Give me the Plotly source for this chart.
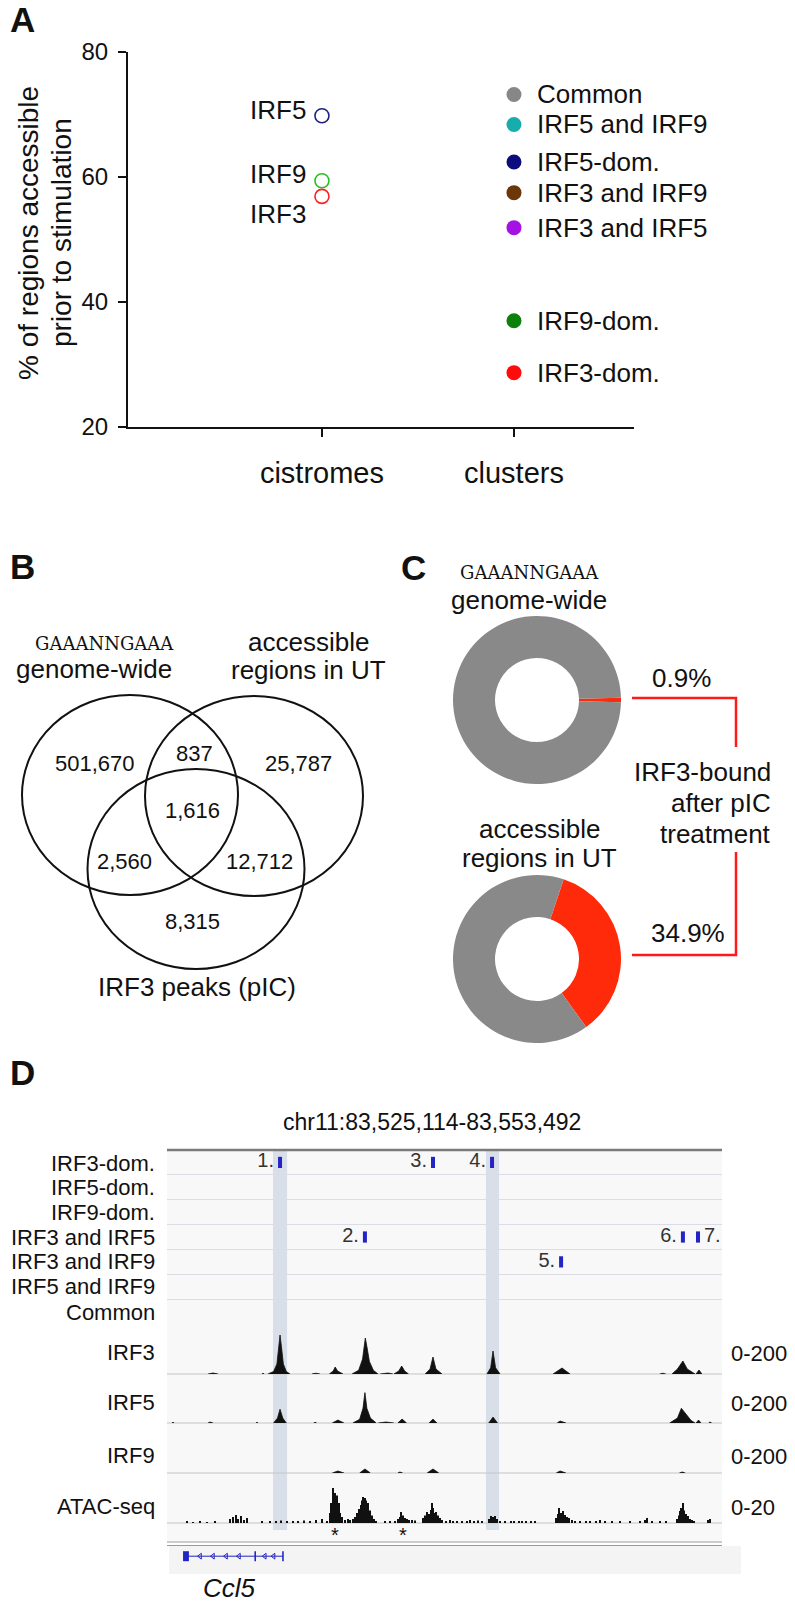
import plotly.graph_objects as go

W, H = 795, 1603
FONT = "Liberation Sans, Arial, Helvetica, sans-serif"
SERIF = "DejaVu Serif, Liberation Serif, serif"
INK = "#111111"
RED = "#ff2a0a"
LINE_RED = "#ff1a1a"
GRAY = "#898989"
BLUE = "#2424c4"


def px(x):
    return x / W


def py(y):
    return 1 - y / H


# ---------------- A: accessibility prior to stimulation
X_CATS = ["cistromes", "clusters"]
Y_TICKS = [20, 40, 60, 80]
CISTROME_NAMES = ["IRF5", "IRF9", "IRF3"]
CISTROME_PCT = [69.8, 59.4, 56.9]
CISTROME_COLORS = ["#1f1f85", "#25c025", "#ff2020"]
CLUSTER_NAMES = ["Common", "IRF5 and IRF9", "IRF5-dom.", "IRF3 and IRF9",
                 "IRF3 and IRF5", "IRF9-dom.", "IRF3-dom."]
CLUSTER_PCT = [73.2, 68.4, 62.4, 57.5, 51.9, 37.0, 28.7]
CLUSTER_COLORS = ["#878787", "#17adad", "#0c0c7c", "#6b3608",
                  "#a312e3", "#0b800b", "#ff0b0b"]

# ---------------- B: venn counts
VENN_REGIONS = ["motif only", "motif+accessible", "accessible only", "all three",
                "motif+IRF3", "accessible+IRF3", "IRF3 only"]
VENN_COUNTS = [501670, 837, 25787, 1616, 2560, 12712, 8315]

# ---------------- C: fraction IRF3-bound
DONUT_GROUPS = ["genome-wide", "accessible regions in UT"]
BOUND_PCT = [0.9, 34.9]

# ---------------- D: genome browser (positions in kb from chr11:83,525,114)
WINDOW = "chr11:83,525,114-83,553,492"
SPAN_KB = 28.378
ROW_TRACKS = ["IRF3-dom.", "IRF5-dom.", "IRF9-dom.", "IRF3 and IRF5",
              "IRF3 and IRF9", "IRF5 and IRF9", "Common"]
FEATURE_IDS = ["1.", "2.", "3.", "4.", "5.", "6.", "7."]
FEATURE_ROW = ["IRF3-dom.", "IRF3 and IRF5", "IRF3-dom.", "IRF3-dom.",
               "IRF3 and IRF9", "IRF3 and IRF5", "IRF3 and IRF5"]
FEATURE_KB = [5.78, 10.12, 13.60, 16.62, 20.15, 26.38, 27.15]
HIGHLIGHT_KB = [(5.42, 6.14), (16.31, 16.98)]

IRF3_X = [2.10, 2.35, 2.61, None, 4.85, 4.91, 4.97, None,
          5.16, 5.45, 5.62, 5.72, 5.78, 5.85, 5.95, 6.10, 6.29, None,
          7.41, 7.60, 7.82, None, 8.30, 8.50, 8.60, 8.72, 9.00, None,
          9.46, 9.80, 10.00, 10.08, 10.14, 10.22, 10.35, 10.55, 10.79, None,
          10.90, 11.30, 11.55, None, 11.60, 11.85, 12.00, 12.15, 12.35, None,
          13.20, 13.45, 13.60, 13.75, 14.06, None, 16.36, 16.55, 16.67, 16.80, 17.03, None,
          19.74, 20.00, 20.20, 20.40, 20.61, None, 25.20, 25.36, 25.50, None,
          25.82, 26.10, 26.38, 26.60, 27.00, None, 27.05, 27.20, 27.35]
IRF3_Y = [0, 4, 0, None, 0, 3, 0, None,
          0, 10, 40, 110, 156, 110, 40, 10, 0, None,
          0, 3, 0, None, 0, 12, 28, 12, 0, None,
          0, 15, 60, 120, 144, 110, 50, 15, 0, None,
          0, 4, 0, None, 0, 12, 32, 12, 0, None,
          0, 20, 68, 20, 0, None, 0, 25, 92, 25, 0, None,
          0, 12, 24, 12, 0, None, 0, 3, 0, None,
          0, 20, 52, 20, 0, None, 0, 16, 0]
IRF5_X = [0.25, 0.31, 0.37, None, 2.10, 2.20, 2.35, None, 4.55, 4.60, 4.66, None,
          5.45, 5.65, 5.78, 5.92, 6.10, None, 7.50, 7.57, 7.65, None,
          8.45, 8.74, 9.05, None, 9.50, 9.85, 10.02, 10.12, 10.22, 10.40, 10.70, None,
          10.80, 11.20, 11.60, None, 11.80, 12.02, 12.25, None, 13.40, 13.60, 13.80, None,
          16.45, 16.67, 16.90, None, 19.95, 20.10, 20.40, None,
          25.70, 26.10, 26.30, 26.50, 26.80, 27.00, None, 27.05, 27.18, 27.30, None,
          27.70, 27.76, 27.85]
IRF5_Y = [0, 3, 0, None, 0, 4, 0, None, 0, 3, 0, None,
          0, 20, 56, 20, 0, None, 0, 3, 0, None,
          0, 12, 0, None, 0, 15, 60, 124, 60, 20, 0, None,
          0, 4, 0, None, 0, 16, 0, None, 0, 16, 0, None,
          0, 24, 0, None, 0, 8, 0, None,
          0, 20, 60, 40, 10, 0, None, 0, 12, 0, None,
          0, 4, 0]
IRF9_X = [8.45, 8.74, 9.05, None, 9.85, 10.12, 10.40, None, 11.80, 11.91, 12.05, None,
          13.30, 13.60, 13.90, None, 19.90, 20.10, 20.40, None, 26.20, 26.34, 26.50]
IRF9_Y = [0, 8, 0, None, 0, 16, 0, None, 0, 4, 0, None,
          0, 16, 0, None, 0, 8, 0, None, 0, 4, 0]
ATAC_KB = [1.02, 1.33, 1.69, 2.05, 2.45, 3.22, 3.37, 3.53, 3.63, 3.78, 3.94, 4.09,
           4.86, 5.27, 5.57, 5.83, 6.14, 6.44, 6.70, 7.00, 7.31, 7.62, 7.93, 8.18,
           8.33, 8.39, 8.44, 8.49, 8.54, 8.59, 8.64, 8.69, 8.74, 8.79, 8.85, 8.95,
           9.10, 9.25, 9.36, 9.51, 9.61, 9.72, 9.82, 9.92, 9.97, 10.02, 10.07, 10.12,
           10.17, 10.23, 10.28, 10.38, 10.48, 10.58, 10.69, 11.15, 11.40, 11.66, 11.81,
           11.91, 11.96, 12.07, 12.17, 12.27, 12.37, 12.53, 12.68, 13.09, 13.19, 13.29,
           13.40, 13.50, 13.55, 13.60, 13.65, 13.75, 13.86, 13.96, 14.06, 14.27, 14.47,
           14.62, 14.83, 15.08, 15.34, 15.49, 15.70, 15.90, 16.11, 16.46, 16.57, 16.67,
           16.77, 16.87, 17.03, 17.28, 17.59, 17.74, 18.00, 18.15, 18.36, 18.61, 18.82,
           19.89, 19.99, 20.04, 20.15, 20.25, 20.35, 20.45, 20.55, 20.71, 20.86, 21.12,
           21.42, 21.63, 21.94, 22.14, 22.40, 22.75, 23.16, 23.67, 24.19, 24.44, 24.54,
           24.80, 25.21, 25.52, 26.08, 26.18, 26.24, 26.29, 26.34, 26.39, 26.44, 26.54,
           26.64, 26.74, 26.84, 26.95, 27.66, 27.76]
ATAC_VAL = [0.6, 0.4, 0.6, 0.4, 0.8, 1.6, 2.4, 3.2, 1.6, 2.8, 1.2, 2.0,
            0.8, 0.6, 0.8, 1.0, 0.6, 0.8, 0.6, 1.0, 0.8, 1.2, 1.6, 0.8,
            4, 8, 6, 14, 9, 12, 7, 11, 5, 8, 4, 2.4,
            1.2, 1.6, 1.2, 1.6, 2.4, 4, 5.6, 7.2, 9, 10.4, 8.4, 10,
            9, 7, 8, 5, 3, 1.6, 0.8, 0.8, 0.6, 0.8, 1.6,
            2.4, 4.4, 3, 2, 1.6, 1.2, 1.2, 1.0, 2, 3, 4.4,
            3.6, 5.2, 8, 6, 4, 4.4, 3, 2, 1.2, 0.8, 1.2,
            0.6, 0.8, 0.6, 0.8, 1.2, 0.8, 1.0, 0.8, 1.6, 2.8, 2.4,
            2.8, 1.6, 0.8, 0.8, 0.8, 0.6, 0.8, 0.6, 0.6, 0.8, 0.6,
            2, 3.6, 6, 4, 4.8, 3.2, 2.4, 2, 1.2, 0.8, 0.8,
            0.6, 0.8, 0.6, 1.2, 0.6, 0.8, 0.6, 0.6, 0.8, 1.2, 2,
            0.8, 0.8, 0.6, 1.6, 3, 4.8, 6, 4, 8, 5, 3.6,
            2.8, 1.6, 1.2, 0.8, 1.2, 1.6]
ATAC_STARS_KB = [8.59, 12.07]
GENE_NAME = "Ccl5"
GENE_SPAN = [0.92, 5.93]
EXON_START = [0.82, 4.47, 5.89]
EXON_END = [1.12, 4.55, 5.97]
INTRON_ARROWS = [1.69, 2.35, 3.02, 3.68, 5.00, 5.45]

fig = go.Figure()

# ---------- panel A
fig.add_trace(go.Scatter(
    x=[X_CATS[0]] * len(CISTROME_PCT), y=CISTROME_PCT, mode="markers",
    marker=dict(symbol="circle-open", size=14, color=CISTROME_COLORS, line=dict(width=1.6)),
    xaxis="x", yaxis="y", cliponaxis=False,
))
fig.add_trace(go.Scatter(
    x=[X_CATS[1]] * len(CLUSTER_PCT), y=CLUSTER_PCT, mode="markers",
    marker=dict(symbol="circle", size=15, color=CLUSTER_COLORS),
    xaxis="x", yaxis="y", cliponaxis=False,
))

# ---------- panel C donuts
DONUT_CENTER = [(537, 700), (537, 959)]
DONUT_R = 84
DONUT_ROT = [90 - BOUND_PCT[0] * 1.8, 18.5]
for pct, (cx, cy), rot in zip(BOUND_PCT, DONUT_CENTER, DONUT_ROT):
    fig.add_trace(go.Pie(
        values=[pct, 100 - pct], labels=["IRF3-bound", "not bound"],
        marker=dict(colors=[RED, GRAY], line=dict(width=0)),
        hole=0.5, sort=False, direction="clockwise", rotation=rot,
        textinfo="none", showlegend=False,
        domain=dict(x=[px(cx - DONUT_R), px(cx + DONUT_R)],
                    y=[py(cy + DONUT_R), py(cy - DONUT_R)]),
    ))

# ---------- panel D tracks
fig.add_trace(go.Scatter(
    x=FEATURE_KB, y=[ROW_TRACKS.index(r) + 0.5 for r in FEATURE_ROW],
    mode="markers+text", text=FEATURE_IDS,
    textposition=["middle left"] * 6 + ["middle right"],
    textfont=dict(size=20, color="#333"),
    marker=dict(symbol="line-ns", size=8, line=dict(width=4, color=BLUE)),
    xaxis="x2", yaxis="y2", cliponaxis=False,
))
for xs, ys, ax in [(IRF3_X, IRF3_Y, "y3"), (IRF5_X, IRF5_Y, "y4"), (IRF9_X, IRF9_Y, "y5")]:
    fig.add_trace(go.Scatter(
        x=xs, y=ys, mode="lines", fill="tozeroy", fillcolor="#111",
        line=dict(color="#111", width=0.8), xaxis="x2", yaxis=ax, connectgaps=False,
    ))
fig.add_trace(go.Bar(x=ATAC_KB, y=ATAC_VAL, width=0.055, marker=dict(color="#111", line=dict(width=0)),
                     xaxis="x2", yaxis="y6"))
fig.add_trace(go.Scatter(x=GENE_SPAN, y=[0, 0], mode="lines", line=dict(color=BLUE, width=1),
                         xaxis="x2", yaxis="y7"))
for s, e in zip(EXON_START, EXON_END):
    fig.add_trace(go.Scatter(x=[s, e], y=[0, 0], mode="lines", line=dict(color=BLUE, width=10),
                             xaxis="x2", yaxis="y7"))
fig.add_trace(go.Scatter(x=INTRON_ARROWS, y=[0] * len(INTRON_ARROWS), mode="markers",
                         marker=dict(symbol="triangle-left-open", size=5, color=BLUE, line=dict(width=1)),
                         xaxis="x2", yaxis="y7"))

hidden = dict(visible=False, fixedrange=True, automargin=False)
fig.update_layout(
    width=W, height=H, autosize=False, showlegend=False,
    margin=dict(l=0, r=0, t=0, b=0, pad=0, autoexpand=False),
    paper_bgcolor="white", plot_bgcolor="rgba(0,0,0,0)",
    font=dict(family=FONT, color=INK, size=22),
    xaxis=dict(domain=[px(128), px(634)], type="category", categoryarray=X_CATS,
               range=[-1.01, 1.625], showline=True, linecolor=INK, linewidth=2,
               ticks="outside", ticklen=8, tickwidth=2, tickcolor=INK, automargin=False,
               tickfont=dict(size=29), ticklabelstandoff=11, showgrid=False, zeroline=False),
    yaxis=dict(domain=[py(427), py(52)], range=[20, 80], tickvals=Y_TICKS,
               showline=True, linecolor=INK, linewidth=2, ticks="outside", ticklen=8,
               tickwidth=2, tickcolor=INK, tickfont=dict(size=24), ticklabelstandoff=5,
               showgrid=False, zeroline=False, automargin=False),
    xaxis2=dict(domain=[px(167), px(722)], range=[0, SPAN_KB], anchor="y2", **hidden),
    yaxis2=dict(domain=[py(1324), py(1150)], range=[7, 0], anchor="x2", tickvals=[1, 2, 3, 4, 5, 6, 7],
                showgrid=True, gridcolor="#dcdce6", gridwidth=1, showticklabels=False, ticks="",
                showline=False, zeroline=False, fixedrange=True, automargin=False),
    yaxis3=dict(domain=[py(1374), py(1324)], range=[0, 200], anchor="x2", **hidden),
    yaxis4=dict(domain=[py(1423), py(1374)], range=[0, 200], anchor="x2", **hidden),
    yaxis5=dict(domain=[py(1473), py(1423)], range=[0, 200], anchor="x2", **hidden),
    yaxis6=dict(domain=[py(1523), py(1473)], range=[0, 20], anchor="x2", **hidden),
    yaxis7=dict(domain=[py(1573), py(1545)], range=[-1.2, 0.8], anchor="x2", **hidden),
)

shapes = []
# D backgrounds and rules
shapes.append(dict(type="rect", xref="paper", yref="paper", x0=px(167), x1=px(722), y0=py(1541),
                   y1=py(1150), fillcolor="#f8f8f8", line=dict(width=0), layer="below"))
shapes.append(dict(type="rect", xref="paper", yref="paper", x0=px(169), x1=px(741), y0=py(1574),
                   y1=py(1546), fillcolor="#f4f4f4", line=dict(width=0), layer="below"))
for a, b in HIGHLIGHT_KB:
    shapes.append(dict(type="rect", xref="x2", yref="paper", x0=a, x1=b, y0=py(1530), y1=py(1151),
                       fillcolor="rgba(180,192,214,0.45)", line=dict(width=0), layer="below"))
shapes.append(dict(type="line", xref="paper", yref="paper", x0=px(167), x1=px(722), y0=py(1150),
                   y1=py(1150), line=dict(color="#7a7a7a", width=2.5)))
for yb in [1374, 1423, 1473, 1523]:
    shapes.append(dict(type="line", xref="paper", yref="paper", x0=px(167), x1=px(722), y0=py(yb),
                       y1=py(yb), line=dict(color="#c4c4c4", width=1), layer="below"))
for yb in [1542, 1545.5]:
    shapes.append(dict(type="line", xref="paper", yref="paper", x0=px(167), x1=px(722), y0=py(yb),
                       y1=py(yb), line=dict(color="#9a9a9a", width=1.2)))

# B venn sets (ellipses)
VENN_ELLIPSES = [(130, 795, 108, 100), (254, 796, 109, 100), (196, 869, 108.5, 100)]
for cx, cy, rx, ry in VENN_ELLIPSES:
    shapes.append(dict(type="circle", xref="paper", yref="paper", x0=px(cx - rx), x1=px(cx + rx),
                       y0=py(cy + ry), y1=py(cy - ry), line=dict(color=INK, width=2)))

# C connectors
shapes.append(dict(type="path", xref="paper", yref="paper",
                   path=f"M {px(632)} {py(698)} L {px(736)} {py(698)} L {px(736)} {py(747)}",
                   line=dict(color=LINE_RED, width=2.5)))
shapes.append(dict(type="path", xref="paper", yref="paper",
                   path=f"M {px(736)} {py(852)} L {px(736)} {py(955)} L {px(632)} {py(955)}",
                   line=dict(color=LINE_RED, width=2.5)))
fig.update_layout(shapes=shapes)

ann = []


def text(x, y, s, size=26, anchor="center", family=FONT, **kw):
    ann.append(dict(xref="paper", yref="paper", x=px(x), y=py(y), text=s, showarrow=False,
                    xanchor=anchor, yanchor="middle", font=dict(size=size, family=family, color=INK), **kw))


# panel letters
for letter, x, y in [("A", 22, 20), ("B", 22, 566), ("C", 413, 567), ("D", 22, 1072)]:
    text(x, y, f"<b>{letter}</b>", size=35)

# A labels
text(28, 233, "% of regions accessible", size=28, textangle=-90)
text(61, 233, "prior to stimulation", size=28, textangle=-90)
LABEL_YSHIFT = [6, 7, -18]
for name, val, dy in zip(CISTROME_NAMES, CISTROME_PCT, LABEL_YSHIFT):
    ann.append(dict(xref="x", yref="y", x=0, y=val, text=name, showarrow=False, xanchor="right",
                    xshift=-14, yshift=dy, font=dict(size=26, color=INK)))
for name, val in zip(CLUSTER_NAMES, CLUSTER_PCT):
    ann.append(dict(xref="x", yref="y", x=1, y=val, text=name, showarrow=False, xanchor="left",
                    xshift=21, font=dict(size=26, color=INK)))

# B labels
text(104, 643, "GAAANNGAAA", size=18, family=SERIF)
text(94, 669, "genome-wide")
text(308, 642, "accessible")
text(308, 670, "regions in UT")
text(197, 987, "IRF3 peaks (pIC)")
VENN_LABEL_XY = [(95, 763), (194, 753), (298, 763), (192, 810), (124, 862), (259, 862), (192, 922)]
for v, (x, y) in zip(VENN_COUNTS, VENN_LABEL_XY):
    text(x, y, f"{v:,}", size=22)

# C labels
text(529, 572, "GAAANNGAAA", size=18, family=SERIF)
text(529, 600, DONUT_GROUPS[0])
text(539, 829, "accessible")
text(539, 858, "regions in UT")
text(681, 678, f"{BOUND_PCT[0]}%")
text(688, 933, f"{BOUND_PCT[1]}%")
text(773, 772, "IRF3-bound", anchor="right")
text(773, 803, "after pIC", anchor="right")
text(773, 834, "treatment", anchor="right")

# D labels
text(432, 1122, WINDOW, size=23)
ROW_LABEL_Y = [1163, 1187, 1212, 1237, 1261, 1286, 1312]
for name, y in zip(ROW_TRACKS, ROW_LABEL_Y):
    text(157, y, name, size=22, anchor="right")
for name, y, scale in [("IRF3", 1352, "0-200"), ("IRF5", 1402, "0-200"),
                       ("IRF9", 1455, "0-200"), ("ATAC-seq", 1506, "0-20")]:
    text(157, y, name, size=22, anchor="right")
    text(729, y + 1, scale, size=22, anchor="left")
for k in ATAC_STARS_KB:
    ann.append(dict(xref="x2", yref="paper", x=k, y=py(1535), text="*", showarrow=False,
                    xanchor="center", yanchor="middle", font=dict(size=20, color=INK)))
text(229, 1588, f"<i>{GENE_NAME}</i>", size=26)

fig.update_layout(annotations=ann)
fig.write_html("out.html", config={"displayModeBar": False},
               post_script="document.body.style.margin='0';")
